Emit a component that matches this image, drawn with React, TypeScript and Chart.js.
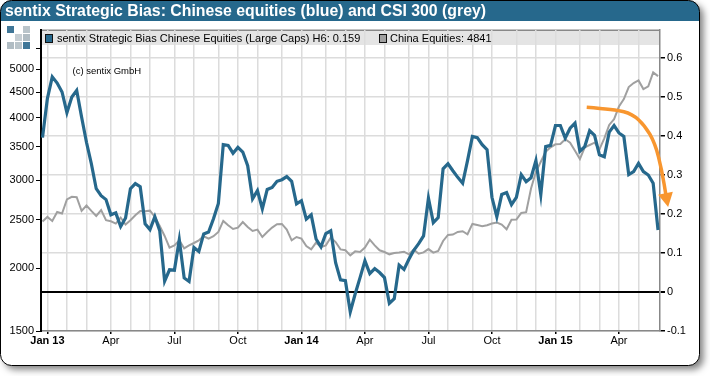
import React, { useEffect, useRef } from "react";
import { Chart, registerables } from "chart.js";

Chart.register(...registerables);

const titleText = "sentix Strategic Bias: Chinese equities (blue) and CSI 300 (grey)";
const blueLegend = "sentix Strategic Bias Chinese Equities (Large Caps) H6: 0.159";
const greyLegend = "China Equities: 4841";
const copyright = "(c) sentix GmbH";

// weekly observations, index 0 = last week of Dec 2012
const bias = [
  0.396, 0.496, 0.552, 0.536, 0.513, 0.46, 0.5, 0.517, 0.449, 0.384, 0.329, 0.265, 0.247, 0.237, 0.198, 0.203,
  0.168, 0.19, 0.265, 0.278, 0.27, 0.175, 0.16, 0.193, 0.157, 0.028, 0.057, 0.056, 0.134, 0.036, 0.027, 0.114,
  0.104, 0.149, 0.154, 0.188, 0.227, 0.378, 0.376, 0.356, 0.371, 0.359, 0.324, 0.239, 0.26, 0.213, 0.263, 0.268,
  0.284, 0.288, 0.296, 0.284, 0.226, 0.234, 0.187, 0.198, 0.136, 0.116, 0.15, 0.157, 0.075, 0.031, 0.029, -0.051,
  -0.005, 0.037, 0.08, 0.047, 0.06, 0.05, 0.037, -0.029, -0.017, 0.069, 0.058, 0.084, 0.107, 0.124, 0.144, 0.241,
  0.178, 0.191, 0.316, 0.329, 0.311, 0.294, 0.279, 0.337, 0.399, 0.396, 0.378, 0.365, 0.243, 0.193, 0.25, 0.255,
  0.224, 0.243, 0.301, 0.283, 0.293, 0.337, 0.25, 0.373, 0.376, 0.427, 0.427, 0.395, 0.42, 0.433, 0.361, 0.373,
  0.414, 0.402, 0.352, 0.347, 0.41, 0.427, 0.408, 0.399, 0.301, 0.309, 0.33, 0.309, 0.3, 0.279, 0.159,
];
const csi300 = [
  2481, 2534, 2488, 2593, 2574, 2746, 2779, 2775, 2605, 2671, 2605, 2546, 2614, 2496, 2484, 2458,
  2527, 2447, 2496, 2554, 2605, 2600, 2608, 2534, 2431, 2322, 2201, 2224, 2276, 2194, 2224, 2248,
  2276, 2319, 2294, 2319, 2365, 2488, 2439, 2398, 2413, 2476, 2420, 2376, 2391, 2311, 2365, 2413,
  2450, 2454, 2391, 2276, 2311, 2294, 2217, 2183, 2252, 2207, 2224, 2305, 2258, 2183, 2174, 2124,
  2163, 2157, 2201, 2283, 2224, 2174, 2157, 2134, 2147, 2151, 2160, 2134, 2180, 2140, 2153, 2186,
  2151, 2167, 2269, 2333, 2337, 2365, 2373, 2340, 2454, 2442, 2428, 2439, 2458, 2470, 2447, 2394,
  2502, 2504, 2581, 2590, 2889, 3119, 3266, 3420, 3490, 3539, 3544, 3622, 3565, 3436, 3307, 3490,
  3527, 3565, 3458, 3638, 3869, 3971, 4209, 4356, 4604, 4689, 4746, 4561, 4618, 4926, 4841,
];

const monthStarts = [1, 5, 9, 14, 18, 22, 27, 31, 36, 40, 44, 49, 53, 58, 62, 66, 70, 75, 79, 83, 88, 92, 97, 101, 105, 110, 114, 118, 122];
const quarterWeeks = [1, 14, 27, 40, 53, 66, 79, 92, 105, 118];
const quarterLabels = ["Jan 13", "Apr", "Jul", "Oct", "Jan 14", "Apr", "Jul", "Oct", "Jan 15", "Apr"];
const boldWeeks = [1, 53, 105];
const leftTicks = [1500, 2000, 2500, 3000, 3500, 4000, 4500, 5000, 5500];
const leftLabelled = [1500, 2000, 2500, 3000, 3500, 4000, 4500, 5000];
const rightTicks = [-0.1, 0, 0.1, 0.2, 0.3, 0.4, 0.5, 0.6];

const arrowWeeks = [111.4, 117.3, 120.7, 123.3, 125.4, 126.8, 127.7];
const arrowValues = [0.474, 0.468, 0.457, 0.427, 0.381, 0.311, 0.242];

const FONT = '"Liberation Sans", Arial, sans-serif';
const BLUE = "#26688c";
const GREY = "#a0a0a0";
const ORANGE = "#f8962f";
const GRID = "#dcdcdc";

function roundedPath(ctx: CanvasRenderingContext2D, x: number, y: number, w: number, h: number, r: number) {
  ctx.beginPath();
  ctx.roundRect(x, y, w, h, r);
}

const chromePlugin = {
  id: "chrome",
  beforeDraw(chart: any) {
    const { ctx, chartArea } = chart;
    ctx.save();
    ctx.fillStyle = "#ffffff";
    ctx.fillRect(0, 0, chart.width, chart.height);
    ctx.save();
    ctx.shadowColor = "rgba(0,0,0,0.5)";
    ctx.shadowBlur = 7;
    ctx.shadowOffsetX = 4;
    ctx.shadowOffsetY = 4;
    roundedPath(ctx, 0.5, 0.5, 699, 365, 11);
    ctx.fill();
    ctx.restore();
    roundedPath(ctx, 0.5, 0.5, 699, 365, 11);
    ctx.save();
    ctx.clip();
    ctx.fillStyle = BLUE;
    ctx.fillRect(0, 0, 700, 21);
    ctx.restore();
    ctx.strokeStyle = "#000000";
    ctx.lineWidth = 1;
    roundedPath(ctx, 0.5, 0.5, 699, 365, 11);
    ctx.stroke();

    ctx.fillStyle = "#ffffff";
    ctx.font = `bold 16px ${FONT}`;
    ctx.textBaseline = "middle";
    ctx.textAlign = "left";
    ctx.fillText(titleText, 5, 11.5, 481);

    // logo
    const cells: [number, number, string][] = [
      [0, 0, "#3f7697"], [2, 0, "#b9c4ca"], [1, 1, "#c6ced3"], [2, 1, "#b0bcc3"],
      [0, 2, "#b0bcc3"], [1, 2, "#b9c4ca"], [2, 2, "#3f7697"],
    ];
    cells.forEach(([c, r, col]) => {
      ctx.fillStyle = col;
      ctx.fillRect(7 + c * 8, 26 + r * 8, 7, 7);
    });

    // legend band and top frame line
    ctx.fillStyle = "#e4e4e4";
    ctx.fillRect(chartArea.left, chartArea.top + 1, chartArea.right - chartArea.left, 14);
    ctx.fillStyle = "#888888";
    ctx.fillRect(chartArea.left, chartArea.top - 0.5, chartArea.right - chartArea.left, 1.5);
    ctx.restore();
  },
  afterDraw(chart: any) {
    const { ctx } = chart;
    ctx.save();
    ctx.font = `11px ${FONT}`;
    ctx.textBaseline = "middle";
    ctx.textAlign = "left";
    const box = (x: number, col: string) => {
      ctx.fillStyle = col;
      ctx.fillRect(x + 0.5, 34.5, 7, 8);
      ctx.strokeStyle = "#111111";
      ctx.lineWidth = 1;
      ctx.strokeRect(x + 0.5, 34.5, 7, 8);
    };
    box(45, BLUE);
    ctx.fillStyle = "#000000";
    ctx.fillText(blueLegend, 57, 38.5);
    box(379, GREY);
    ctx.fillStyle = "#000000";
    ctx.fillText(greyLegend, 390, 38.5);
    ctx.font = `9.5px ${FONT}`;
    ctx.fillText(copyright, 72.5, 71);
    ctx.restore();
  },
  afterDatasetsDraw(chart: any) {
    const { ctx, scales } = chart;
    const px = arrowWeeks.map((w) => scales.x.getPixelForValue(w));
    const py = arrowValues.map((v) => scales.y.getPixelForValue(v));
    const n = px.length - 1;
    ctx.save();
    ctx.strokeStyle = ORANGE;
    ctx.lineWidth = 3.5;
    ctx.beginPath();
    ctx.moveTo(px[0], py[0]);
    for (let i = 1; i < n; i++) {
      ctx.quadraticCurveTo(px[i], py[i], (px[i] + px[i + 1]) / 2, (py[i] + py[i + 1]) / 2);
    }
    ctx.lineTo(px[n], py[n]);
    ctx.stroke();
    const rot = (11 * Math.PI) / 180;
    const tri = [[0, 9.5], [-7.5, -4.5], [7.5, -4.5]].map(([a, b]) => [
      px[n] + a * Math.cos(rot) + b * Math.sin(rot),
      py[n] - a * Math.sin(rot) + b * Math.cos(rot),
    ]);
    ctx.fillStyle = ORANGE;
    ctx.beginPath();
    ctx.moveTo(tri[0][0], tri[0][1]);
    ctx.lineTo(tri[1][0], tri[1][1]);
    ctx.lineTo(tri[2][0], tri[2][1]);
    ctx.closePath();
    ctx.fill();
    ctx.restore();
  },
};

export default function App() {
  const ref = useRef<HTMLCanvasElement>(null);
  useEffect(() => {
    const chart = new Chart(ref.current as HTMLCanvasElement, {
      type: "line",
      data: {
        datasets: [
          {
            label: "sentix Strategic Bias Chinese Equities (Large Caps) H6",
            data: bias.map((y, x) => ({ x, y })),
            yAxisID: "y",
            borderColor: BLUE,
            backgroundColor: BLUE,
            borderWidth: 3.2,
            pointRadius: 0,
            tension: 0,
            order: 1,
          },
          {
            label: "China Equities",
            data: csi300.map((y, x) => ({ x, y })),
            yAxisID: "yLeft",
            borderColor: GREY,
            backgroundColor: GREY,
            borderWidth: 2,
            pointRadius: 0,
            tension: 0,
            order: 2,
          },
        ],
      },
      options: {
        responsive: false,
        animation: false,
        layout: { padding: { top: 30, left: 0, right: 0, bottom: 0 } },
        plugins: { legend: { display: false }, title: { display: false }, tooltip: { enabled: false } },
        scales: {
          x: {
            type: "linear",
            min: -0.307,
            max: 126.4,
            afterBuildTicks: (s: any) => {
              s.ticks = monthStarts.map((value) => ({ value }));
            },
            afterFit: (s: any) => {
              s.height = 45;
            },
            border: { color: "#888888", width: 1.5 },
            grid: {
              color: GRID,
              lineWidth: 1.5,
              tickLength: 3,
              tickColor: (c: any) => (quarterWeeks.includes(c.tick?.value) ? "#000000" : "rgba(0,0,0,0)"),
            },
            ticks: {
              autoSkip: false,
              maxRotation: 0,
              padding: 0,
              color: "#000000",
              font: (c: any) => ({ family: FONT, size: 11, weight: boldWeeks.includes(c.tick?.value) ? "bold" : "normal" }),
              callback: (v: any) => {
                const k = quarterWeeks.indexOf(v);
                return k >= 0 ? quarterLabels[k] : "";
              },
            },
          },
          yLeft: {
            type: "logarithmic",
            position: "left",
            min: 1500,
            max: 5985,
            afterBuildTicks: (s: any) => {
              s.ticks = leftTicks.map((value) => ({ value }));
            },
            afterFit: (s: any) => {
              s.width = 41;
            },
            border: { color: "#000000", width: 2 },
            grid: { drawOnChartArea: false, tickLength: 5, tickColor: "#000000" },
            ticks: {
              autoSkip: false,
              padding: 2,
              color: "#000000",
              font: { family: FONT, size: 11 },
              callback: (v: any) => (leftLabelled.includes(v) ? String(v) : ""),
            },
          },
          y: {
            type: "linear",
            position: "right",
            min: -0.1,
            max: 0.672,
            afterBuildTicks: (s: any) => {
              s.ticks = rightTicks.map((value) => ({ value }));
            },
            afterFit: (s: any) => {
              s.width = 50;
            },
            border: { color: "#888888", width: 1.5 },
            grid: {
              color: (c: any) => (c.tick?.value === 0 ? "#000000" : GRID),
              lineWidth: (c: any) => (c.tick?.value === 0 ? 2 : 1.5),
              tickLength: 5,
              tickColor: "#000000",
            },
            ticks: {
              autoSkip: false,
              padding: 2,
              color: "#000000",
              font: { family: FONT, size: 11 },
              callback: (v: any) => String(v),
            },
          },
        },
      } as any,
      plugins: [chromePlugin],
    });
    return () => chart.destroy();
  }, []);
  return (
    <div style={{ position: "absolute", left: 0, top: 0, width: 710, height: 376 }}>
      <canvas ref={ref} width={710} height={376} style={{ display: "block" }} />
    </div>
  );
}
